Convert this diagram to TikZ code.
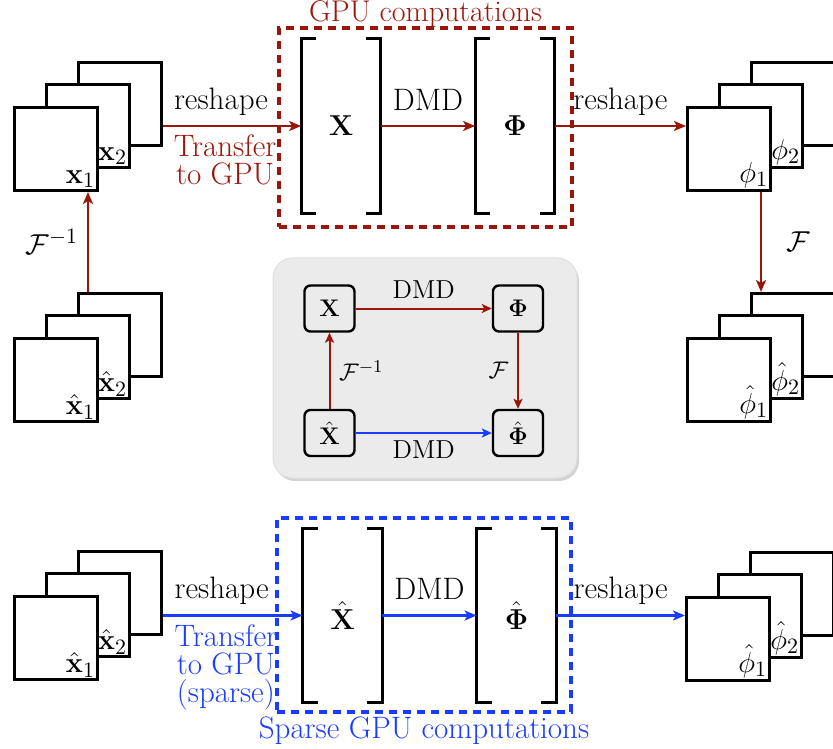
\documentclass[tikz,border=0pt]{standalone}
\usepackage{amsmath,bm}
\usetikzlibrary{arrows.meta,shadows}
\definecolor{dred}{RGB}{155,22,10}
\definecolor{dblue}{RGB}{25,60,255}
\definecolor{panel}{RGB}{235,235,235}
\newcommand\bigfs{\fontsize{15.5}{14}\selectfont}
\newcommand\midfs{\fontsize{13}{13}\selectfont}
\newcommand\mystack[5]{%
  \node[frame,anchor=north west] (#1b) at (#2+64,#3-45) {};
  \node[frame,anchor=north west] (#1m) at (#2+32,#3-23) {};
  \node[frame,anchor=north west] (#1f) at (#2,#3) {};
  \node[lab,anchor=south east] (#1l2) at (#1m.south east) {#5};
  \node[lab,anchor=south east] (#1l1) at (#1f.south east) {#4};
}
\newcommand\brackets[1]{%
  \draw[brk] ([xshift=7.5pt]#1.north west) -- (#1.north west) -- (#1.south west) -- ([xshift=7.5pt]#1.south west);
  \draw[brk] ([xshift=-7.5pt]#1.north east) -- (#1.north east) -- (#1.south east) -- ([xshift=-7.5pt]#1.south east);
}
\tikzset{
  frame/.style={draw, line width=1.5pt, fill=white, minimum width=41.5pt, minimum height=41.5pt, inner sep=0pt},
  lab/.style={inner sep=1.8pt, font=\bigfs},
  mat/.style={minimum width=39.5pt, minimum height=87pt, inner sep=0pt, font=\bigfs},
  brk/.style={line width=1.5pt},
  rarr/.style={draw=dred, line width=1.2pt, -{Stealth[length=6pt,width=5pt,inset=1.5pt]}},
  barr/.style={draw=dblue, line width=1.2pt, -{Stealth[length=6pt,width=5pt,inset=1.5pt]}},
  iarr/.style={line width=1pt, -{Stealth[length=5pt,width=4.5pt,inset=1.2pt]}},
  dbox/.style={line width=2pt, dash pattern=on 4pt off 3pt, inner sep=0pt},
  ibox/.style={draw, line width=1.2pt, rounded corners=3pt, minimum width=25pt, minimum height=23pt, fill=panel, font=\midfs, inner sep=0pt},
  txt/.style={font=\bigfs, align=center},
}
\begin{document}
\begin{tikzpicture}[x=0.5pt,y=-0.5pt]
\useasboundingbox (0,0) rectangle (833,748);
\clip (0,0) rectangle (833,748);

% ---------- top row ----------
\node[dbox, draw=dred, minimum width=146.5pt, minimum height=99.5pt] (gpu) at (425.5,127.5) {};
\node[text=dred, anchor=south, inner sep=0pt, yshift=-0.8pt, font=\fontsize{15}{15}\selectfont] (gpulab) at (gpu.north) {GPU computations};

\mystack{xs}{13}{106}{$\mathbf{x}_1$}{$\mathbf{x}_2$}
\node[mat] (X) at (341,126) {$\mathbf{X}$};
\brackets{X}
\node[mat] (P) at (515,126) {$\boldsymbol{\Phi}$};
\brackets{P}
\mystack{ps}{686}{106}{$\phi_1$}{$\phi_2$}

\draw[rarr] (X.west -| xsb.east) -- (X.west)
  node[pos=0.42, above=1.5pt, txt, text=black] (rs1) {reshape}
  node[pos=0.45, below=0.5pt, txt, text=dred] (tr1) {Transfer\\to GPU};
\draw[rarr] (X.east) -- (P.west) node[midway, above=4pt, txt] (dmd1) {DMD};
\draw[rarr] (P.east) -- (P.east -| psf.west) node[midway, above=1.5pt, txt] (rs2) {reshape};

% ---------- second row ----------
\mystack{xh}{13}{337}{$\hat{\mathbf{x}}_1$}{$\hat{\mathbf{x}}_2$}
\mystack{ph}{686}{337}{$\hat{\phi}_1$}{$\hat{\phi}_2$}
\coordinate (Fix) at (88,0);
\coordinate (Fx) at (761,0);
\draw[rarr] (xhb.north -| Fix) -- (xsf.south -| Fix)
  node[midway, left=1pt, txt, text=black] (Fi) {$\mathcal{F}^{-1}$};
\draw[rarr] (psf.south -| Fx) -- (phb.north -| Fx)
  node[midway, right=9pt, txt, text=black] (F) {$\mathcal{F}$};

% ---------- central panel ----------
\node[draw=gray!25, line width=0.5pt, fill=panel, rounded corners=10pt, minimum width=152pt, minimum height=110pt,
      drop shadow={shadow xshift=1pt, shadow yshift=-1.5pt, opacity=0.35}] (panel) at (425,368) {};
\node[ibox] (iX) at (329.5,308.5) {$\mathbf{X}$};
\node[ibox] (iP) at (518,308.5) {$\boldsymbol{\Phi}$};
\node[ibox] (iXh) at (329.5,433) {$\hat{\mathbf{X}}$};
\node[ibox] (iPh) at (518,433) {$\hat{\boldsymbol{\Phi}}$};
\draw[iarr, dred] (iX) -- (iP) node[midway, above=1pt, font=\midfs, text=black] (idmd1) {DMD};
\draw[iarr, dred] (iXh) -- (iX) node[midway, right=1pt, font=\midfs, text=black] (iFi) {$\mathcal{F}^{-1}$};
\draw[iarr, dred] (iP) -- (iPh) node[midway, left=1pt, font=\midfs, text=black] (iF) {$\mathcal{F}$};
\draw[iarr, dblue] (iXh) -- (iPh) node[midway, below=0pt, font=\midfs, text=black] (idmd2) {DMD};

% ---------- bottom row ----------
\node[dbox, draw=dblue, minimum width=147pt, minimum height=97pt] (sgpu) at (424,615) {};
\node[txt, text=dblue, anchor=north, inner sep=1pt] (sgpulab) at (sgpu.south) {Sparse GPU computations};

\mystack{bx}{13}{595}{$\hat{\mathbf{x}}_1$}{$\hat{\mathbf{x}}_2$}
\node[mat] (bX) at (342.5,615.5) {$\hat{\mathbf{X}}$};
\brackets{bX}
\node[mat] (bP) at (516.5,615.5) {$\hat{\boldsymbol{\Phi}}$};
\brackets{bP}
\mystack{bp}{685}{596}{$\hat{\phi}_1$}{$\hat{\phi}_2$}

\draw[barr] (bX.west -| bxb.east) -- (bX.west)
  node[pos=0.42, above=1.5pt, txt, text=black] (rs3) {reshape}
  node[pos=0.45, below=0.5pt, txt, text=dblue] (tr2) {Transfer\\to GPU\\(sparse)};
\draw[barr] (bX.east) -- (bP.west) node[midway, above=4pt, txt, text=black] (dmd2) {DMD};
\draw[barr] (bP.east) -- (bP.east -| bpf.west) node[midway, above=1.5pt, txt, text=black] (rs4) {reshape};
\end{tikzpicture}
\end{document}
